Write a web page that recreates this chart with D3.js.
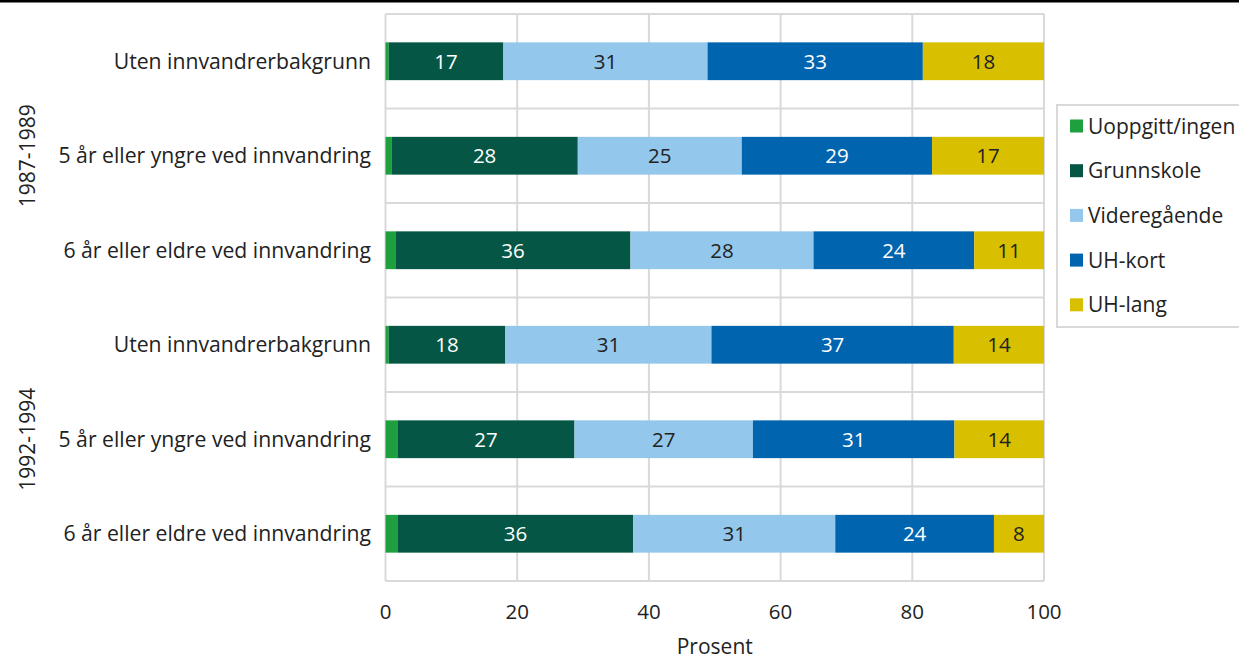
<!DOCTYPE html>
<html><head><meta charset="utf-8">
<script src="https://cdn.jsdelivr.net/npm/d3@7"></script>
<style>
html,body{margin:0;padding:0;background:#fff;}
svg{display:block;font-family:"Open Sans",sans-serif;}
</style></head>
<body><svg id="c" width="1239" height="659"></svg>
<script>
const categories = [
  "Uten innvandrerbakgrunn",
  "5 år eller yngre ved innvandring",
  "6 år eller eldre ved innvandring",
  "Uten innvandrerbakgrunn",
  "5 år eller yngre ved innvandring",
  "6 år eller eldre ved innvandring"
];
const groups = ["1987-1989", "1992-1994"];
const seriesNames = ["Uoppgitt/ingen", "Grunnskole", "Videregående", "UH-kort", "UH-lang"];
const uoppgitt     = [0.5, 0.9, 1.5, 0.5, 1.8, 1.9];
const grunnskole   = [17.4, 28.3, 35.7, 17.7, 26.9, 35.7];
const videregaende = [31.0, 24.9, 27.8, 31.3, 27.1, 30.7];
const uhKort       = [32.7, 28.9, 24.4, 36.8, 30.6, 24.1];
const uhLang       = [18.4, 17.0, 10.6, 13.7, 13.6, 7.6];
const xTicks = [0, 20, 40, 60, 80, 100];
const colors = ["#1fa03f", "#055645", "#93c7eb", "#0164ae", "#d8bf00"];
const labelColors = [null, "#ffffff", "#222222", "#ffffff", "#222222"];

(function(){
const seriesValues = [uoppgitt, grunnskole, videregaende, uhKort, uhLang];
const rows = categories.map((c, i) => {
  const o = {key: i, cat: c};
  seriesNames.forEach((s, j) => o[s] = seriesValues[j][i]);
  return o;
});

const svg = d3.select("#c");
const W = 1239;
const pLeft = 385.5, pRight = 1044, pTop = 14, pBottom = 581;
const x = d3.scaleLinear().domain([0, 100]).range([pLeft, pRight]);
const y = d3.scaleBand().domain(d3.range(categories.length)).range([pTop, pBottom]).paddingInner(0.6).paddingOuter(0.3);
const yStep = d3.scaleBand().domain(d3.range(categories.length)).range([pTop, pBottom]);

svg.append("rect").attr("x", 0).attr("y", 0).attr("width", W).attr("height", 2.5).attr("fill", "#000");

const grid = svg.append("g");
grid.selectAll("line.v").data(xTicks).join("line")
  .attr("x1", d => x(d)).attr("x2", d => x(d)).attr("y1", pTop).attr("y2", pBottom)
  .attr("stroke", "#d9d9d9").attr("stroke-width", 2);
const hb = d3.range(categories.length + 1).map(i => i < categories.length ? yStep(i) : pBottom);
grid.selectAll("line.h").data(hb).join("line")
  .attr("x1", pLeft).attr("x2", pRight).attr("y1", d => d).attr("y2", d => d)
  .attr("stroke", "#d9d9d9").attr("stroke-width", 2);

const stack = d3.stack().keys(seriesNames)(rows);
const fmt = d3.format(".0f");
const g = svg.append("g");
stack.forEach((layer, j) => {
  g.selectAll(null).data(layer).join("rect")
    .attr("x", d => x(d[0])).attr("width", d => x(d[1]) - x(d[0]))
    .attr("y", (d, i) => y(i)).attr("height", y.bandwidth())
    .attr("fill", colors[j]);
  if (j > 0) {
    g.selectAll(null).data(layer).join("text")
      .attr("x", d => (x(d[0]) + x(d[1])) / 2)
      .attr("y", (d, i) => y(i) + y.bandwidth() / 2)
      .attr("dy", "0.36em").attr("text-anchor", "middle")
      .attr("font-size", 20.5).attr("fill", labelColors[j])
      .text(d => fmt(d[1] - d[0]));
  }
});

svg.append("g").selectAll("text").data(categories).join("text")
  .attr("x", 371).attr("y", (d, i) => y(i) + y.bandwidth() / 2).attr("dy", "0.36em")
  .attr("text-anchor", "end").attr("font-size", 21.2).attr("fill", "#222")
  .text(d => d);

groups.forEach((gname, k) => {
  const cy = (yStep(k * 3) + yStep(k * 3 + 2) + yStep.bandwidth()) / 2;
  svg.append("text").attr("transform", `translate(35,${cy}) rotate(-90)`)
    .attr("text-anchor", "middle").attr("font-size", 21).attr("fill", "#222").text(gname);
});

svg.append("g").selectAll("text").data(xTicks).join("text")
  .attr("x", d => x(d)).attr("y", 612).attr("dy", "0.36em").attr("text-anchor", "middle")
  .attr("font-size", 20.5).attr("fill", "#222").text(d => d);
svg.append("text").attr("x", (pLeft + pRight) / 2).attr("y", 646).attr("dy", "0.36em")
  .attr("text-anchor", "middle").attr("font-size", 21).attr("fill", "#222").text("Prosent");

const lg = svg.append("g");
lg.append("rect").attr("x", 1057).attr("y", 105).attr("width", 200).attr("height", 222)
  .attr("fill", "#fff").attr("stroke", "#d9d9d9").attr("stroke-width", 2);
seriesNames.forEach((s, j) => {
  const cy = 126 + j * 44.7;
  lg.append("rect").attr("x", 1070).attr("y", cy - 6.5).attr("width", 13).attr("height", 13).attr("fill", colors[j]);
  lg.append("text").attr("x", 1088).attr("y", cy).attr("dy", "0.36em").attr("font-size", 21)
    .attr("fill", "#222").text(s);
});
})();
</script></body></html>
